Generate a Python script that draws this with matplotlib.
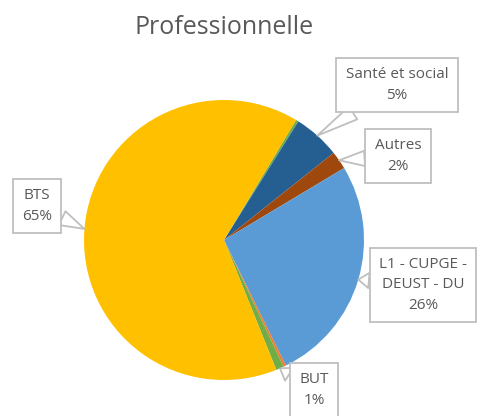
import numpy as np
import matplotlib
matplotlib.use("Agg")
import matplotlib.pyplot as plt

plt.rcParams['font.family'] = ['Open Sans', 'DejaVu Sans']

# slices clockwise, starting at the thin green one near the top
labels = ['', 'Santé et social', 'Autres', 'L1 - CUPGE -\nDEUST - DU', '', 'BUT', 'BTS']
values = [0.3, 5.4, 2.1, 26.3, 0.3, 0.9, 64.7]
shown = ['', '5%', '2%', '26%', '', '1%', '65%']
colors = ['#70AD47', '#255E91', '#9E480E', '#5B9BD5', '#ED7D31', '#70AD47', '#FFC000']

# label box centres in figure pixels (from bottom-left)
box_pos = {1: (397, 331), 2: (398, 260), 3: (423, 131), 5: (314, 26), 6: (37, 210)}

W, H = 478, 416
fig = plt.figure(figsize=(W / 100, H / 100), dpi=100)
ax = fig.add_axes([84 / W, 36 / H, 280 / W, 280 / H])

wedges, _ = ax.pie(values, colors=colors, startangle=59, counterclock=False,
                   radius=1, wedgeprops=dict(linewidth=0))
ax.set_xlim(-1, 1)
ax.set_ylim(-1, 1)
ax.set_aspect('equal')
ax.axis('off')

for i, w in enumerate(wedges):
    if i not in box_pos:
        continue
    mid = np.deg2rad((w.theta1 + w.theta2) / 2)
    xy = (np.cos(mid), np.sin(mid))
    ax.annotate(labels[i] + '\n' + shown[i], xy=xy, xycoords='data',
                xytext=box_pos[i], textcoords='figure pixels',
                ha='center', va='center', fontsize=11, color='#595959',
                linespacing=1.5,
                bbox=dict(boxstyle='square,pad=0.62', fc='white', ec='#BFBFBF', lw=1.3),
                arrowprops=dict(arrowstyle='wedge,tail_width=1.0,shrink_factor=0.5',
                                fc='white', ec='#BFBFBF', lw=1.3,
                                shrinkA=0, shrinkB=0))

fig.text(224 / W, 1 - 27 / H, 'Professionnelle', ha='center', va='center',
         fontsize=18, color='#595959')

fig.savefig('out.png', dpi=100)
